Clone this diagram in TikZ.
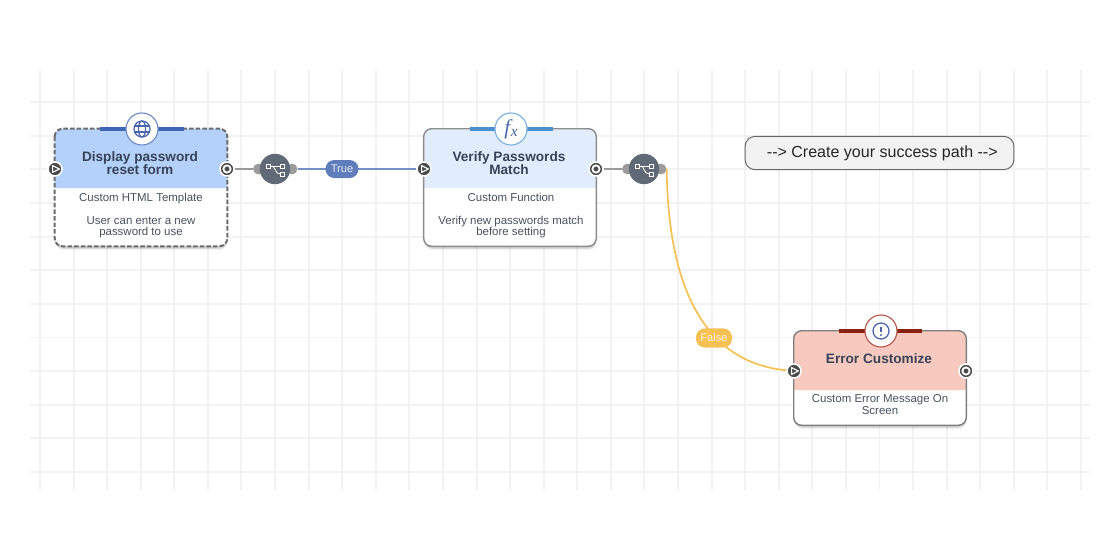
\documentclass[tikz,border=0pt]{standalone}
\usepackage{fontspec}
\setmainfont{Liberation Sans}
\newfontfamily\fxfont{Liberation Serif}
\usetikzlibrary{shadows}
\definecolor{gridcol}{HTML}{F2F2F3}
\definecolor{titlecol}{HTML}{374357}
\definecolor{subcol}{HTML}{4A5160}
\definecolor{portcol}{HTML}{4B4B4B}
\definecolor{forkcol}{HTML}{5F6A76}
\definecolor{lobecol}{HTML}{9B9B9B}
\definecolor{linkgrey}{HTML}{9A9A9A}
\definecolor{linkblue}{HTML}{7490C2}
\definecolor{pillblue}{HTML}{5F7DBB}
\definecolor{pillyellow}{HTML}{F6C154}
\definecolor{iconcol}{HTML}{4A65AE}
\definecolor{headblue}{HTML}{B3D1FB}
\definecolor{headpale}{HTML}{E1ECFD}
\definecolor{headred}{HTML}{F8C9BF}
\definecolor{barblue}{HTML}{3F67B8}
\definecolor{barsky}{HTML}{4A90D0}
\definecolor{barred}{HTML}{8A2010}
\definecolor{ringblue}{HTML}{6D8CC6}
\definecolor{ringsky}{HTML}{7AB0E0}
\definecolor{ringred}{HTML}{B5584A}
\tikzset{
  card/.style = {shape=rectangle,rounded corners=0.2cm,fill=white,minimum width=4.3cm,inner sep=0pt,
    drop shadow={shadow xshift=0pt,shadow yshift=-1pt,opacity=0.3},
    drop shadow={shadow xshift=0.3pt,shadow yshift=-2pt,opacity=0.2},
    drop shadow={shadow xshift=0.3pt,shadow yshift=-3pt,opacity=0.1}},
  edgeline/.style = {rounded corners=0.2cm,line width=1pt},
  title/.style = {align=center,text=titlecol,font=\fontsize{9.7}{9.3}\selectfont\bfseries},
  subtext/.style = {align=center,text=subcol,font=\fontsize{8.15}{8.15}\selectfont},
  badge/.style = {shape=circle,draw,fill=white,line width=0.8pt,minimum size=0.8cm,inner sep=0pt},
  portin/.style = {shape=circle,draw=white,line width=1.1pt,fill=portcol,minimum size=0.35cm,inner sep=0pt,
    path picture={\draw[white,fill=portcol,line width=0.8pt,line join=round] ([xshift=-0.06cm,yshift=0.085cm]path picture bounding box.center) -- ++(0.17cm,-0.085cm) -- ++(-0.17cm,-0.085cm) -- cycle;}},
  portout/.style = {shape=circle,draw=white,line width=1.1pt,fill=portcol,minimum size=0.35cm,inner sep=0pt,
    path picture={\draw[white,line width=1.3pt] (path picture bounding box.center) circle (0.09cm);}},
  fork/.style = {shape=circle,fill=forkcol,minimum size=0.76cm,inner sep=0pt,
    path picture={\begin{scope}[shift={(path picture bounding box.center)},white,line width=0.6pt]
      \draw (-6,-3) -- (5,-3);
      \draw (-3,-3) .. controls (0,-3) and (0,5) .. (5,5);
      \draw[fill=forkcol] (-9,-5) rectangle (-5,-1);
      \draw[fill=forkcol] (5,-5) rectangle (9,-1);
      \draw[fill=forkcol] (5,3) rectangle (9,7);
    \end{scope}}},
  lobe/.style = {shape=circle,fill=lobecol,minimum size=0.27cm,inner sep=0pt},
  pill/.style = {shape=rectangle,rounded corners=0.22cm,inner sep=0pt,
    font=\fontsize{7.9}{9}\selectfont},
  note/.style = {shape=rectangle,rounded corners=0.25cm,draw=black!60,fill=black!5,line width=0.7pt,
    minimum width=6.72cm,minimum height=0.83cm,inner sep=0pt},
}
% header band over the top of a card: name, bottom y, colour
\newcommand{\cardhead}[3]{\fill[#3] (#1.west |- 0,#2) [rounded corners=0.2cm] -- (#1.north west) -- (#1.north east) [sharp corners] -- (#1.east |- 0,#2) -- cycle;}
\begin{document}
\begin{tikzpicture}[x=0.025cm,y=-0.025cm]
\useasboundingbox (0,0) rectangle (1120,560);

% grid
\foreach \i in {0,...,31}
  \draw[gridcol,line width=1.4pt] ({40+33.58*\i},70) -- ({40+33.58*\i},490);
\foreach \j in {0,...,11}
  \draw[gridcol,line width=1.4pt] (30,{102+33.64*\j}) -- (1090,{102+33.64*\j});

% cards
\node[card,minimum height=2.925cm] (display) at (141,187.5) {};
\node[card,minimum height=2.925cm] (verify) at (510,187.5) {};
\node[card,minimum height=2.35cm] (errbox) at (880,378) {};
\cardhead{display}{188}{headblue}
\cardhead{verify}{188}{headpale}
\cardhead{errbox}{390}{headred}
\draw[edgeline,draw=black!58,line width=1.4pt,dash pattern=on 3.2pt off 1.5pt] (display.north west) rectangle (display.south east);
\draw[edgeline,draw=black!45] (verify.north west) rectangle (verify.south east);
\draw[edgeline,draw=black!50] (errbox.north west) rectangle (errbox.south east);

% ports
\node[portin] (displayin) at (55,169) {};
\node[portout] (displayout) at (227,169) {};
\node[portin] (verifyin) at (424,169) {};
\node[portout] (verifyout) at (596,169) {};
\node[portin] (errin) at (794,371) {};
\node[portout] (errout) at (966,371) {};

% forks
\node[lobe] (forkAin) at (258.5,169) {};
\node[lobe] (forkAout) at (292,169) {};
\node[lobe] (forkBin) at (627.5,169) {};
\node[lobe] (forkBout) at (661,169) {};
\node[fork] (forkA) at (275,169) {};
\node[fork] (forkB) at (644,169) {};

% links
\draw[linkgrey,line width=1.1pt] (displayout) -- (forkAin);
\draw[linkblue,line width=1.3pt] (forkAout) -- (verifyin);
\draw[linkgrey,line width=1.1pt] (verifyout) -- (forkBin);
\draw[pillyellow,line width=1.2pt] (forkBout.east) .. controls (668,280) and (700,362) .. (errin);

% pills
\node[pill,fill=pillblue,text=white!85!pillblue,minimum width=0.825cm,minimum height=0.45cm] (truepill) at (342,169) {True};
\node[pill,fill=pillyellow,text=white!80!pillyellow,minimum width=0.9cm,minimum height=0.48cm] (falsepill) at (714,338) {False};

% icons and bars
\draw[barblue,line width=2.4pt] (100,129) -- (184,129);
\draw[barsky,line width=2.4pt] (470,129) -- (553,129);
\draw[barred,line width=2.4pt] (839,331) -- (922,331);
\node[badge,draw=ringblue,
  path picture={\begin{scope}[shift={(path picture bounding box.center)},iconcol,line width=0.9pt]
    \draw (0,0) circle (0.2cm);
    \draw (0,0) ellipse (0.09cm and 0.2cm);
    \draw (-8,-3) -- (8,-3);
    \draw (-8,3) -- (8,3);
  \end{scope}}] (globeicon) at (142,129) {};
\node[badge,draw=ringsky,text=iconcol,font=\fontsize{15}{15}\fxfont\itshape] (fxicon) at (511,129) {f\kern0.5pt\raisebox{-2pt}{\fontsize{11}{11}\selectfont x}};
\node[badge,draw=ringred,
  path picture={\begin{scope}[shift={(path picture bounding box.center)},iconcol]
    \draw[line width=0.9pt] (0,0) circle (0.2cm);
    \draw[line width=1.1pt] (0,-4) -- (0,1);
    \fill (0,4) circle (0.03cm);
  \end{scope}}] (erricon) at (881,331) {};

% texts
\node[title] (displaytitle) at (140,163.5) {Display password\\reset form};
\node[title] (verifytitle) at (509,163.5) {Verify Passwords\\Match};
\node[title] (errtitle) at (879,359) {Error Customize};
\node[subtext,anchor=north] (displaysub) at (141,188) {Custom HTML Template\\~\\User can enter a new\\password to use};
\node[subtext,anchor=north] (verifysub) at (511,188) {Custom Function\\~\\Verify new passwords match\\before setting};
\node[subtext,anchor=north] (errsub) at (880,390) {Custom Error Message On\\Screen};

% note
\node[note,font=\fontsize{11.4}{13}\selectfont,text=black!85] (successnote) at (879.5,153) {\hspace{0.14cm}-{}-> Create your success path -{}->};
\end{tikzpicture}
\end{document}
